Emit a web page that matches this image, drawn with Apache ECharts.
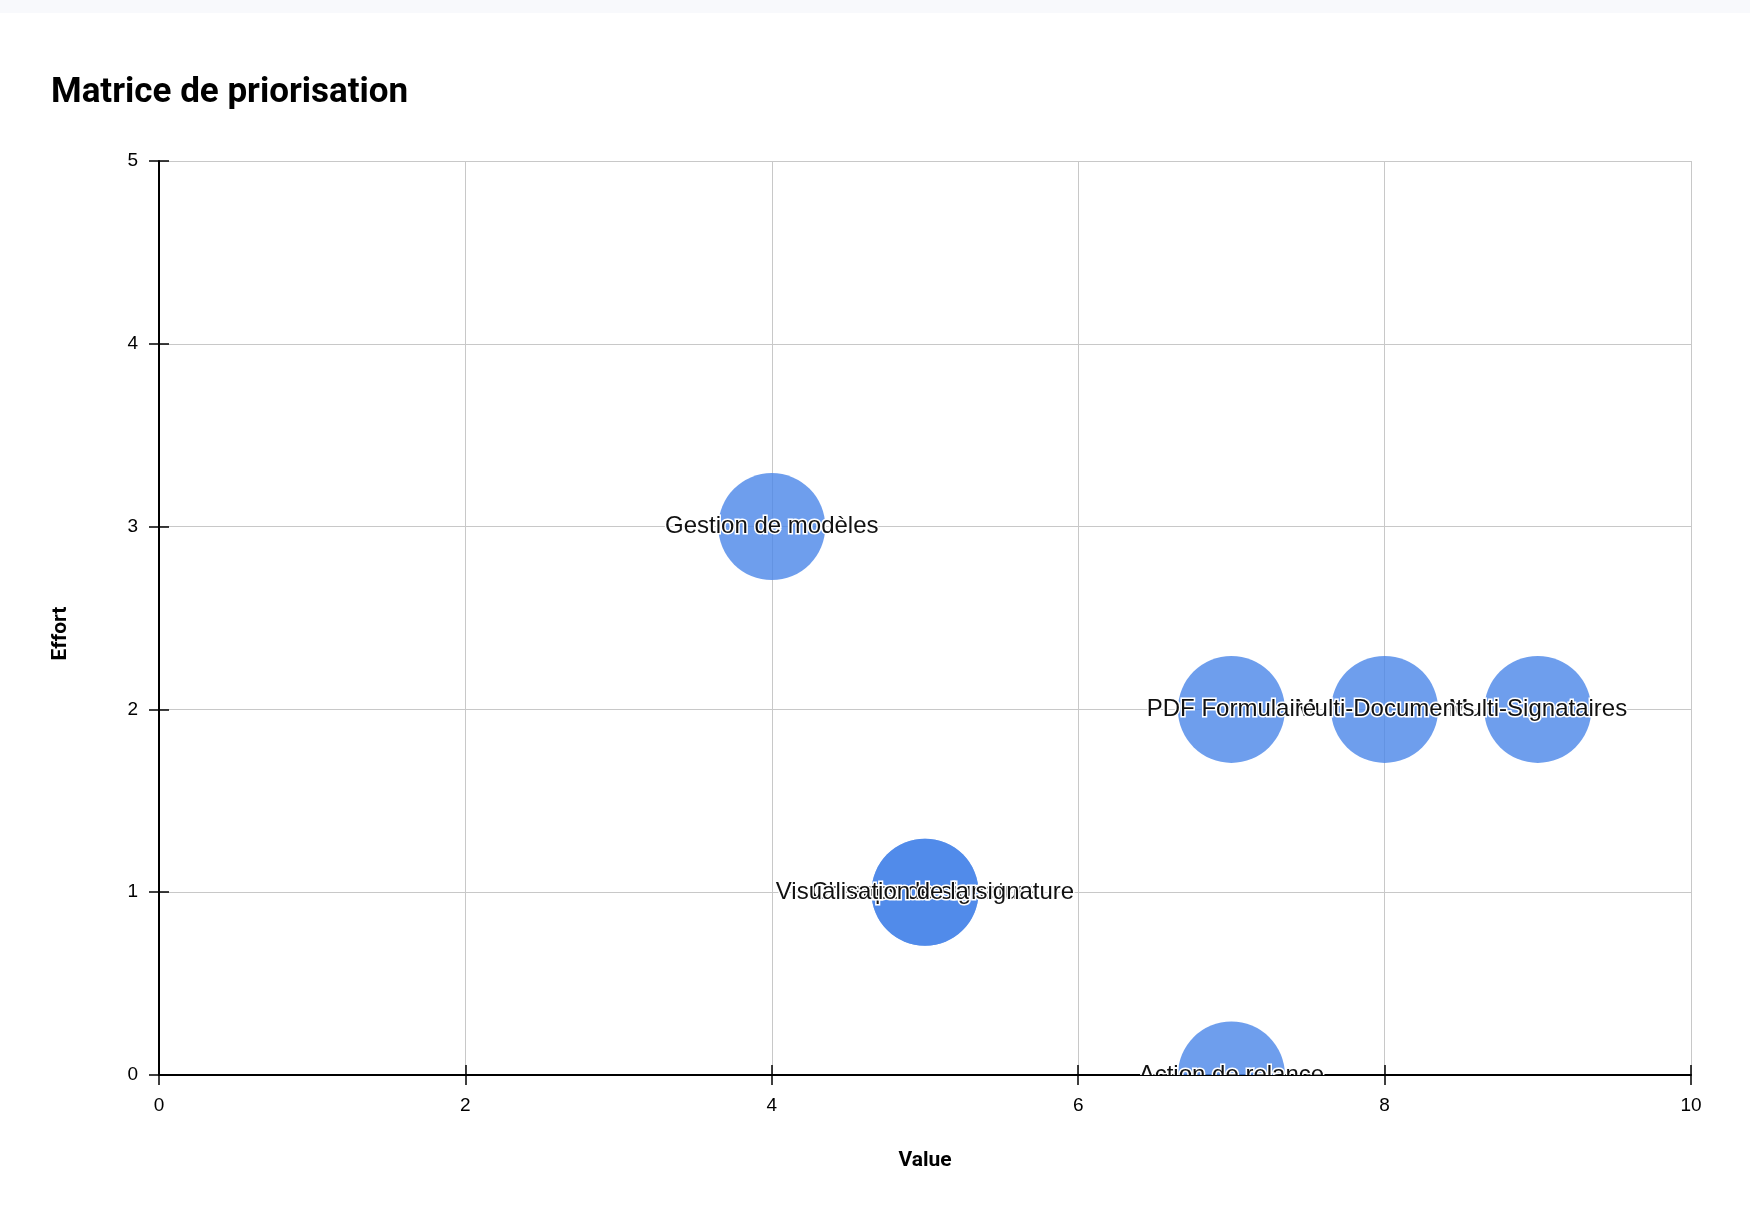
<!DOCTYPE html>
<html><head><meta charset="utf-8">
<script src="https://cdn.jsdelivr.net/npm/echarts/dist/echarts.min.js"></script>
<style>html,body{margin:0;padding:0;background:#fff}#c{width:1750px;height:1224px}</style>
</head><body><div id="c"></div>
<script>
// Data
const featureNames = ["Gestion de modèles","Multi-Signataires","Multi-Documents","PDF Formulaire","Champs de signature","Visualisation de la signature","Action de relance"];
const featureValue = [4, 9, 8, 7, 5, 5, 7];
const featureEffort = [3, 2, 2, 2, 1, 1, 0];
const chartTitle = "Matrice de priorisation";
const xAxisName = "Value";
const yAxisName = "Effort";

const seriesData = featureNames.map((n, i) => [featureValue[i], featureEffort[i], n]);

const chart = echarts.init(document.getElementById('c'), null, {renderer: 'canvas'});
const BUBBLE_R = 53.5;
const axisCommon = {
  axisLine: {show: true, onZero: false, lineStyle: {color: '#000', width: 2}},
  axisTick: {show: true, length: 10, lineStyle: {color: '#000', width: 1.5}},
  axisLabel: {fontSize: 19, color: '#000', fontFamily: '"Liberation Sans", Arial, sans-serif'},
  splitLine: {show: true, lineStyle: {color: '#c8c8c8', width: 1}}
};
const innerTicks = {
  axisLine: {show: false},
  axisTick: {show: true, inside: true, length: 10, lineStyle: {color: '#000', width: 1.5}},
  axisLabel: {show: false},
  splitLine: {show: false}
};
chart.setOption({
  animation: false,
  backgroundColor: '#fff',
  title: {
    text: chartTitle, left: 46, top: 71,
    textStyle: {fontFamily: 'Roboto, sans-serif', fontWeight: 'bold', fontSize: 35, color: '#000'}
  },
  graphic: [{type: 'rect', left: 0, top: 0, shape: {width: 1750, height: 13}, style: {fill: '#f8f9fc'}, z: -10}],
  grid: {left: 159, right: 59, top: 161, bottom: 149, containLabel: false, outerBoundsMode: 'none'},
  xAxis: [
    Object.assign({}, axisCommon, {
      type: 'value', min: 0, max: 10, interval: 2, position: 'bottom',
      name: xAxisName, nameLocation: 'middle', nameGap: 75,
      nameTextStyle: {fontFamily: 'Roboto, sans-serif', fontWeight: 'bold', fontSize: 21, color: '#000'},
      axisLabel: Object.assign({}, axisCommon.axisLabel, {margin: 21})
    }),
    Object.assign({}, innerTicks, {type: 'value', min: 0, max: 10, interval: 2, position: 'bottom'})
  ],
  yAxis: [
    Object.assign({}, axisCommon, {
      type: 'value', min: 0, max: 5, interval: 1, position: 'left',
      name: yAxisName, nameLocation: 'middle', nameGap: 88, nameRotate: 90,
      nameTextStyle: {fontFamily: 'Roboto, sans-serif', fontWeight: 'bold', fontSize: 21, color: '#000',
                      padding: [0, 31, 0, 0]},
      axisLabel: Object.assign({}, axisCommon.axisLabel, {margin: 21})
    }),
    Object.assign({}, innerTicks, {type: 'value', min: 0, max: 5, interval: 1, position: 'left'})
  ],
  series: [{
    type: 'custom',
    clip: true,
    xAxisIndex: 0, yAxisIndex: 0,
    data: seriesData,
    renderItem: function (params, api) {
      const p = api.coord([api.value(0), api.value(1)]);
      const i = params.dataIndex;
      return {
        type: 'group',
        children: [
          {type: 'circle', z2: i, shape: {cx: p[0], cy: p[1], r: BUBBLE_R},
           style: {fill: 'rgba(74,134,232,0.8)'}},
          {type: 'text', z2: 100 + i, x: p[0], y: p[1],
           style: {text: featureNames[i], fill: '#111', stroke: '#fff', lineWidth: 3,
                   font: '24px "Liberation Sans", Arial, sans-serif', align: 'center', verticalAlign: 'middle'}}
        ]
      };
    }
  }]
});
</script>
</body></html>
